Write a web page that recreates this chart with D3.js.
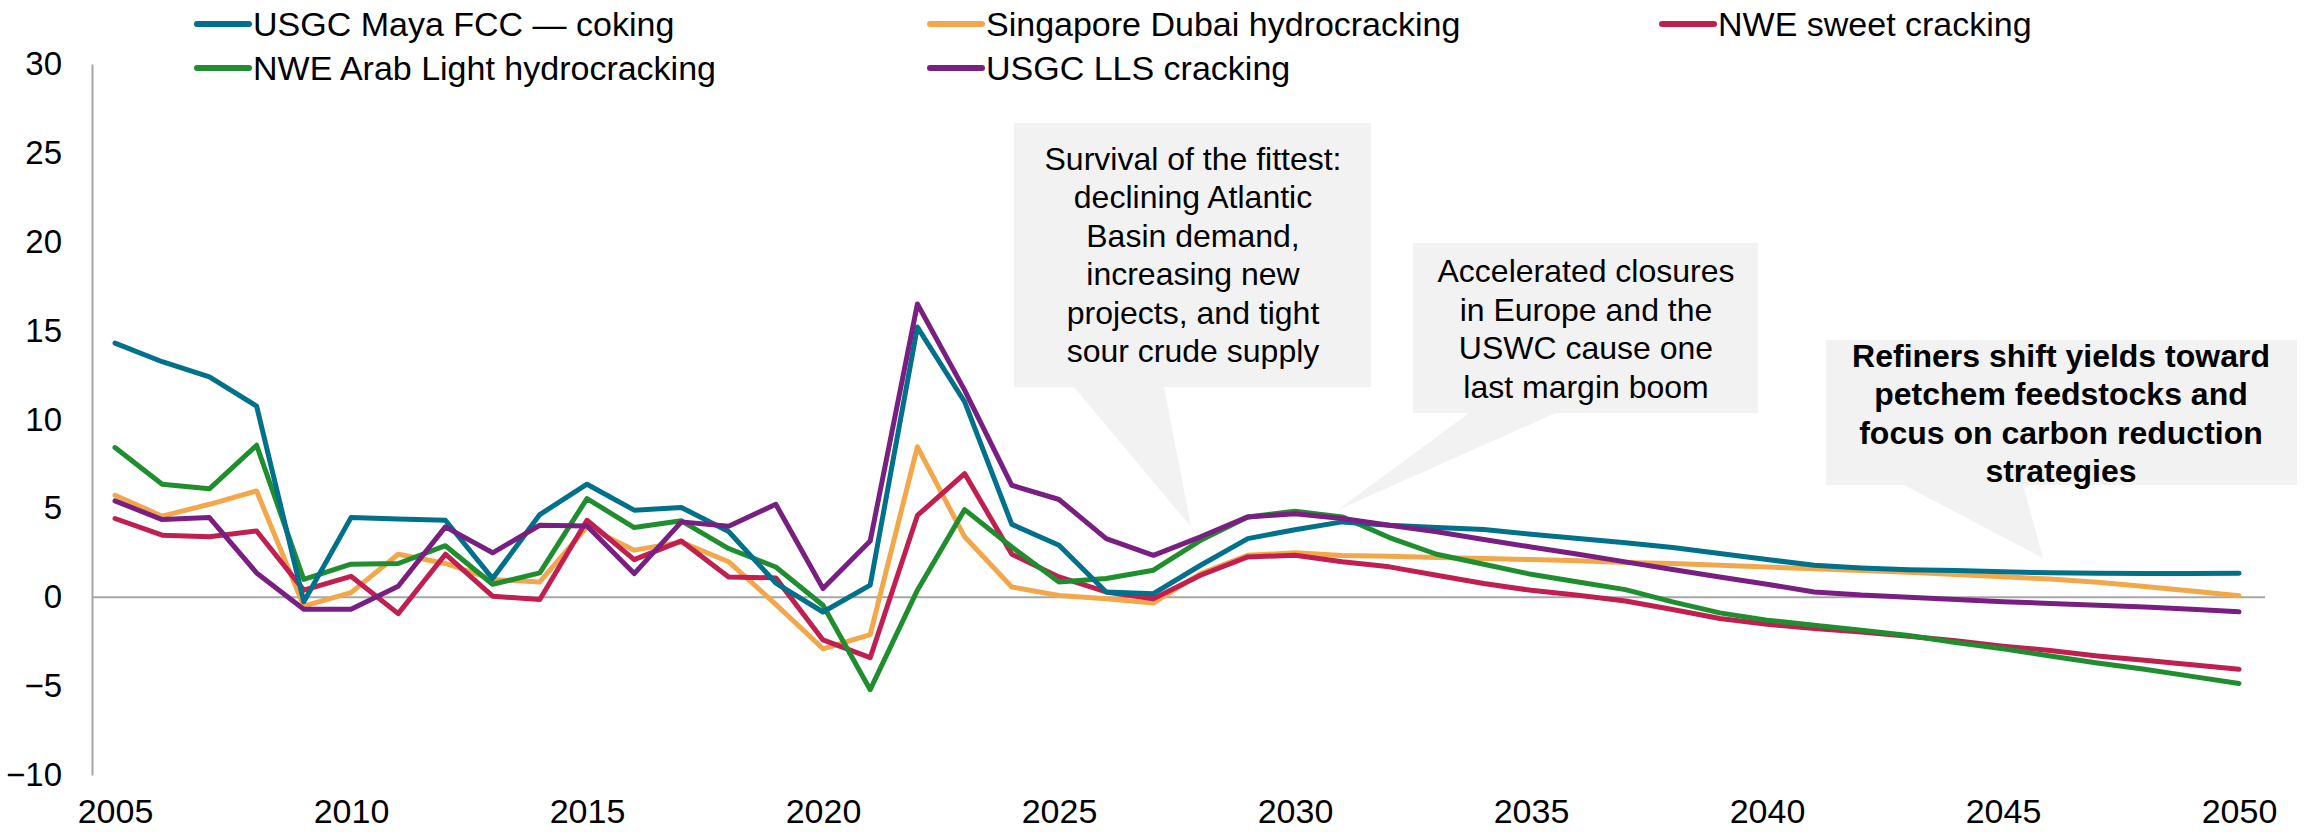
<!DOCTYPE html>
<html>
<head>
<meta charset="utf-8">
<script src="https://cdn.jsdelivr.net/npm/d3@7"></script>
<style>
    body { margin: 0; background: #fff; }
    svg text { font-family: "Liberation Sans", Arial, sans-serif; fill: #000; }
</style>
</head>
<body>
<div id="chart"></div>
<script>
// years on the x axis
const years = d3.range(2005, 2051);

// margins by series, one value per year 2005..2050
const mayaCoking = [14.3, 13.25, 12.4, 10.75, -0.25, 4.48, 4.4, 4.33, 1.05, 4.65,
    6.36, 4.9, 5.05, 3.7, 0.8, -0.83, 0.68, 15.2, 11.0, 4.1,
    2.93, 0.3, 0.2, 1.8, 3.3, 3.8, 4.24, 4.05, 3.92, 3.81,
    3.55, 3.3, 3.06, 2.8, 2.46, 2.12, 1.8, 1.65, 1.55, 1.5,
    1.43, 1.38, 1.35, 1.33, 1.33, 1.35];
const singaporeHydro = [5.74, 4.56, 5.23, 5.98, -0.5, 0.26, 2.42, 1.9, 1.0, 0.86,
    3.96, 2.65, 3.1, 2.0, -0.4, -2.9, -2.1, 8.46, 3.4, 0.58,
    0.1, -0.08, -0.32, 1.33, 2.36, 2.5, 2.35, 2.3, 2.23, 2.18,
    2.12, 2.05, 1.95, 1.9, 1.8, 1.7, 1.6, 1.5, 1.4, 1.28,
    1.15, 1.02, 0.85, 0.6, 0.35, 0.08];
const nweSweet = [4.43, 3.49, 3.4, 3.73, 0.4, 1.18, -0.92, 2.42, 0.06, -0.13,
    4.33, 2.12, 3.17, 1.14, 1.09, -2.4, -3.4, 4.6, 6.96, 2.42,
    1.14, 0.3, -0.08, 1.24, 2.27, 2.36, 2.0, 1.71, 1.24, 0.77,
    0.39, 0.11, -0.21, -0.69, -1.2, -1.52, -1.76, -1.95, -2.2, -2.45,
    -2.75, -3.0, -3.3, -3.55, -3.8, -4.05];
const nweArabLight = [8.42, 6.36, 6.1, 8.55, 1.0, 1.86, 1.9, 2.9, 0.73, 1.37,
    5.55, 3.92, 4.3, 2.74, 1.7, -0.45, -5.2, 0.4, 4.93, 2.83,
    0.86, 1.05, 1.52, 3.2, 4.52, 4.84, 4.52, 3.36, 2.42, 1.86,
    1.29, 0.86, 0.43, -0.26, -0.88, -1.29, -1.58, -1.85, -2.15, -2.55,
    -2.9, -3.3, -3.7, -4.05, -4.45, -4.85];
const usgcLls = [5.42, 4.37, 4.48, 1.37, -0.68, -0.68, 0.62, 3.96, 2.5, 4.05,
    4.01, 1.33, 4.24, 4.0, 5.23, 0.49, 3.17, 16.5, 11.65, 6.3,
    5.5, 3.3, 2.36, 3.4, 4.52, 4.7, 4.43, 4.05, 3.68, 3.25,
    2.83, 2.42, 1.99, 1.56, 1.14, 0.73, 0.3, 0.12, 0.0, -0.12,
    -0.25, -0.35, -0.45, -0.55, -0.68, -0.82];

const seriesNames = ["USGC Maya FCC \u2014 coking", "Singapore Dubai hydrocracking", "NWE sweet cracking",
    "NWE Arab Light hydrocracking", "USGC LLS cracking"];
const seriesValues = [mayaCoking, singaporeHydro, nweSweet, nweArabLight, usgcLls];
const seriesColors = ["#00718b", "#f3a74b", "#c01f50", "#1f8e2f", "#7a1f82"];
// order the lines are painted in (last on top)
const drawOrder = [1, 2, 3, 0, 4];

const yTicks = [-10, -5, 0, 5, 10, 15, 20, 25, 30];
const xTicks = [2005, 2010, 2015, 2020, 2025, 2030, 2035, 2040, 2045, 2050];

// callouts: text lines + where the pointer lands (year, value)
const noteFittest = ["Survival of the fittest:", "declining Atlantic", "Basin demand,",
    "increasing new", "projects, and tight", "sour crude supply"];
const noteClosures = ["Accelerated closures", "in Europe and the", "USWC cause one", "last margin boom"];
const noteRefiners = ["Refiners shift yields toward", "petchem feedstocks and",
    "focus on carbon reduction", "strategies"];

const width = 2305, height = 832;
const plot = { left: 92, right: 2265, top: 64, bottom: 775 };

const svg = d3.select("#chart")
    .append("svg")
    .attr("width", width)
    .attr("height", height);

const x = d3.scaleLinear().domain([2005, 2050]).range([115, 2239]);
const y = d3.scaleLinear().domain([-10, 30]).range([plot.bottom, plot.top]);

// callout boxes (drawn under the lines)
function callout(lines, box, base, tip, lineGap, bold, textX, firstBaseline) {
    const g = svg.append("g").attr("class", "callout");
    const p = d3.path();
    p.moveTo(box.x0, box.y0);
    p.lineTo(box.x1, box.y0);
    p.lineTo(box.x1, box.y1);
    p.lineTo(base[1], box.y1);
    p.lineTo(x(tip[0]), y(tip[1]));
    p.lineTo(base[0], box.y1);
    p.lineTo(box.x0, box.y1);
    p.closePath();
    g.append("path")
        .attr("d", p.toString())
        .attr("fill", "#f2f2f2");
    g.selectAll("text")
        .data(lines)
        .enter()
        .append("text")
        .attr("x", textX)
        .attr("y", (d, i) => firstBaseline + i * lineGap)
        .attr("text-anchor", "middle")
        .style("font-size", "32px")
        .style("font-weight", bold ? "bold" : "normal")
        .text(d => d);
}

callout(noteFittest, { x0: 1014, y0: 123, x1: 1371, y1: 387 }, [1074, 1164], [2027.8, 3.95], 38.4, false, 1193, 170);
callout(noteClosures, { x0: 1413, y0: 243, x1: 1758, y1: 413 }, [1469, 1556], [2030.9, 4.9], 38.6, false, 1586, 282);
callout(noteRefiners, { x0: 1826, y0: 340, x1: 2297, y1: 485 }, [1904, 2023], [2045.85, 2.2], 38.4, true, 2061, 367);

// y axis
const yAxis = svg.append("g")
    .attr("class", "y axis")
    .attr("transform", `translate(${plot.left},0)`)
    .call(d3.axisLeft(y).tickValues(yTicks).tickSize(0).tickPadding(30));
yAxis.select(".domain").attr("stroke", "#a6a6a6").attr("stroke-width", 2);
yAxis.selectAll("text").style("font-size", "33px");

// x axis (labels only)
const xAxis = svg.append("g")
    .attr("class", "x axis")
    .attr("transform", `translate(0,${plot.bottom})`)
    .call(d3.axisBottom(x).tickValues(xTicks).tickFormat(d3.format("d")).tickSize(0).tickPadding(24));
xAxis.select(".domain").remove();
xAxis.selectAll("text").style("font-size", "34px");

// zero line
svg.append("line")
    .attr("x1", plot.left).attr("x2", plot.right)
    .attr("y1", y(0)).attr("y2", y(0))
    .attr("stroke", "#a6a6a6")
    .attr("stroke-width", 2);

// series lines
const line = d3.line()
    .x((d, i) => x(years[i]))
    .y(d => y(d));

svg.selectAll("path.series")
    .data(drawOrder)
    .enter()
    .append("path")
    .attr("class", "series")
    .attr("d", k => line(seriesValues[k]))
    .attr("fill", "none")
    .attr("stroke", k => seriesColors[k])
    .attr("stroke-width", 5)
    .attr("stroke-linejoin", "round")
    .attr("stroke-linecap", "round");

// legend, three columns
const legendCols = [197, 930, 1662];
const legendRows = [24, 68];
const legend = svg.selectAll("g.legend")
    .data(seriesNames)
    .enter()
    .append("g")
    .attr("class", "legend")
    .attr("transform", (d, i) => `translate(${legendCols[i % 3]},${legendRows[Math.floor(i / 3)]})`);
legend.append("line")
    .attr("x1", 0).attr("x2", 52)
    .attr("stroke", (d, i) => seriesColors[i])
    .attr("stroke-width", 6)
    .attr("stroke-linecap", "round");
legend.append("text")
    .attr("x", 56)
    .attr("dy", "0.35em")
    .style("font-size", "34px")
    .text(d => d);
</script>
</body>
</html>
